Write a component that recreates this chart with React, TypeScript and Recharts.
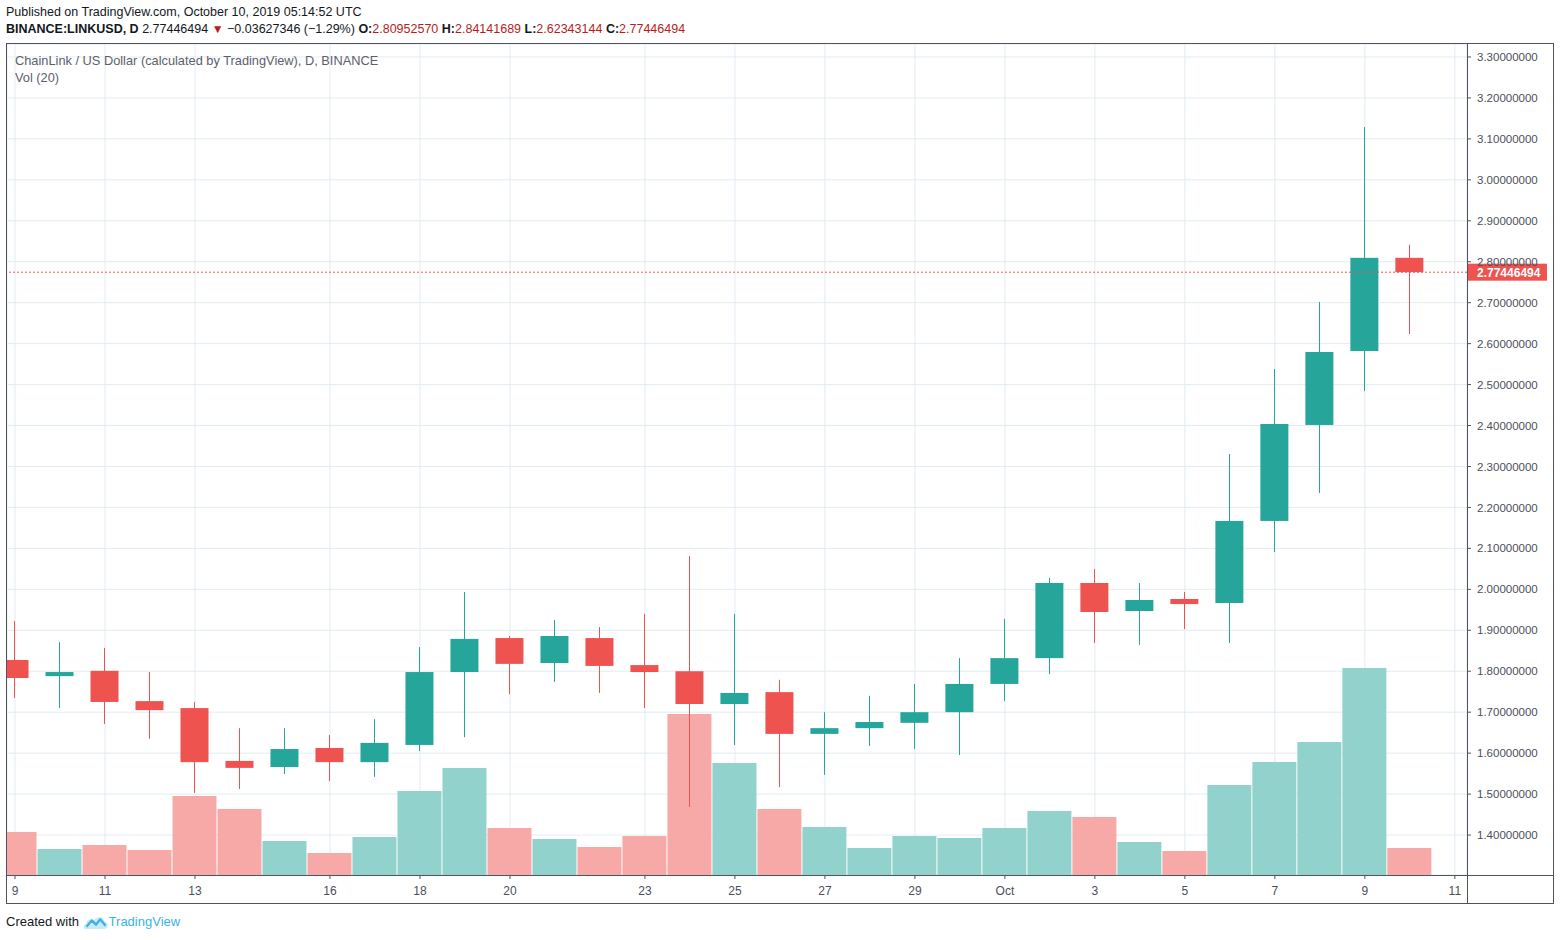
import React from 'react';
import { ComposedChart, Bar, XAxis, YAxis, CartesianGrid, ReferenceLine } from 'recharts';

const dates = [
  '2019-09-09', '2019-09-10', '2019-09-11', '2019-09-12', '2019-09-13', '2019-09-14', '2019-09-15', '2019-09-16',
  '2019-09-17', '2019-09-18', '2019-09-19', '2019-09-20', '2019-09-21', '2019-09-22', '2019-09-23', '2019-09-24',
  '2019-09-25', '2019-09-26', '2019-09-27', '2019-09-28', '2019-09-29', '2019-09-30', '2019-10-01', '2019-10-02',
  '2019-10-03', '2019-10-04', '2019-10-05', '2019-10-06', '2019-10-07', '2019-10-08', '2019-10-09', '2019-10-10',
];
const opens = [
  1.8275, 1.788, 1.801, 1.727, 1.71, 1.581, 1.566, 1.6126,
  1.578, 1.62, 1.798, 1.881, 1.82, 1.881, 1.815, 1.8,
  1.72, 1.749, 1.647, 1.661, 1.674, 1.7, 1.769, 1.832,
  2.0155, 1.947, 1.9764, 1.9667, 2.167, 2.4014, 2.582, 2.8095257,
];
const highs = [
  1.9227, 1.871, 1.857, 1.798, 1.725, 1.661, 1.661, 1.644,
  1.683, 1.859, 1.9935, 1.886, 1.925, 1.908, 1.94, 2.081,
  1.94, 1.779, 1.7, 1.74, 1.769, 1.832, 1.928, 2.028,
  2.05, 2.0155, 1.9935, 2.3305, 2.538, 2.7017, 3.129, 2.84141689,
];
const lows = [
  1.7347, 1.71, 1.671, 1.635, 1.503, 1.5125, 1.549, 1.532,
  1.542, 1.605, 1.639, 1.744, 1.774, 1.747, 1.71, 1.4685,
  1.62, 1.517, 1.547, 1.6175, 1.61, 1.5955, 1.727, 1.793,
  1.869, 1.864, 1.903, 1.869, 2.091, 2.2353, 2.484, 2.62343144,
];
const closes = [
  1.7835, 1.798, 1.725, 1.705, 1.578, 1.564, 1.61, 1.578,
  1.625, 1.798, 1.879, 1.818, 1.886, 1.813, 1.798, 1.72,
  1.747, 1.647, 1.661, 1.676, 1.7, 1.769, 1.832, 2.0155,
  1.9447, 1.974, 1.964, 2.167, 2.4038, 2.5796, 2.8095257, 2.77446494,
];
// volume in millions LINK (approximate)
const volumes = [
  4.3, 2.6, 3.0, 2.5, 7.9, 6.6, 3.4, 2.2,
  3.8, 8.4, 10.7, 4.7, 3.6, 2.8, 3.9, 16.1,
  11.2, 6.6, 4.8, 2.7, 3.9, 3.7, 4.7, 6.4,
  5.8, 3.3, 2.4, 9.0, 11.3, 13.3, 20.7, 2.7,
];

const xTicks = [0, 2, 4, 7, 9, 11, 14, 16, 18, 20, 22, 24, 26, 28, 30, 32];
const xTickLabels = ['9', '11', '13', '16', '18', '20', '23', '25', '27', '29', 'Oct', '3', '5', '7', '9', '11'];
const priceTicks = [1.4, 1.5, 1.6, 1.7, 1.8, 1.9, 2.0, 2.1, 2.2, 2.3, 2.4, 2.5, 2.6, 2.7, 2.8, 2.9, 3.0, 3.1, 3.2, 3.3];
const lastPrice = 2.77446494;

const UP = '#26a69a';
const DOWN = '#ef5350';
const UP_VOL = '#92d2cc';
const DOWN_VOL = '#f7a9a7';
const FRAME = '#50535e';
const TEXT = '#4c4f5a';
const FONT = '"Liberation Sans", Arial, sans-serif';

const data = dates.map((d, i) => ({
  idx: i,
  date: d,
  open: opens[i],
  high: highs[i],
  low: lows[i],
  close: closes[i],
  volume: volumes[i],
}));

const Candle = (props: any) => {
  const { x, y, width, height, payload } = props;
  const { open, high, low, close } = payload;
  const top = Math.min(y, y + height);
  const h = Math.abs(height);
  const ppu = h / (high - low);
  const py = (v: number) => top + (high - v) * ppu;
  const color = close >= open ? UP : DOWN;
  const bodyTop = py(Math.max(open, close));
  const bodyBot = py(Math.min(open, close));
  const cx = Math.floor(x + width / 2);
  return (
    <g>
      <rect x={cx} y={top} width={1} height={h} fill={color} />
      <rect x={x} y={bodyTop} width={width} height={Math.max(1, bodyBot - bodyTop)} fill={color} />
    </g>
  );
};

const VolBar = (props: any) => {
  const { x, y, width, height, payload } = props;
  const color = payload.close >= payload.open ? UP_VOL : DOWN_VOL;
  return <rect x={x} y={y} width={width} height={height} fill={color} />;
};

const PriceLabel = (props: any) => {
  const vb = props.viewBox || {};
  const lx = vb.x + vb.width + 1;
  const ly = vb.y;
  return (
    <g>
      <rect x={lx} y={ly - 8.5} width={79} height={17} fill={DOWN} />
      <text x={lx + 9} y={ly + 4.5} fill="#fff" fontSize={12} fontWeight="bold" fontFamily={FONT}>
        {lastPrice.toFixed(8)}
      </text>
    </g>
  );
};

const Logo = () => (
  <svg width={26} height={17} viewBox="0 0 24 16" style={{ verticalAlign: 'middle' }}>
    <path d="M2 14 C0 14 0 10 3 9 C3 5 8 4 10 6 C12 2 19 2 20 7 C24 7 24 14 20 14 Z" fill="#c7e9f8" />
    <path d="M3 12 L8 6 L12 10 L16 5 L21 11" fill="none" stroke="#3bb3e4" strokeWidth={2.2} strokeLinejoin="round" />
  </svg>
);

export default function App() {
  return (
    <div style={{ position: 'absolute', left: 0, top: 0, width: 1560, height: 940, background: '#fff', fontFamily: FONT }}>
      <div style={{ position: 'absolute', left: 6, top: 4, fontSize: 12.5, color: '#131722', lineHeight: '16px', whiteSpace: 'nowrap' }}>
        Published on TradingView.com, October 10, 2019 05:14:52 UTC
      </div>
      <div style={{ position: 'absolute', left: 6, top: 21, fontSize: 12.5, color: '#131722', lineHeight: '16px', whiteSpace: 'nowrap', fontWeight: 'bold' }}>
        BINANCE:LINKUSD, D{' '}
        <span style={{ fontWeight: 'normal' }}>
          {' '}2.77446494 <span style={{ color: '#b71c1c', fontSize: 12 }}>▼</span> −0.03627346 (−1.29%){' '}
        </span>
        O:<span style={{ color: '#b71c1c', fontWeight: 'normal' }}>2.80952570</span>{' '}
        H:<span style={{ color: '#b71c1c', fontWeight: 'normal' }}>2.84141689</span>{' '}
        L:<span style={{ color: '#b71c1c', fontWeight: 'normal' }}>2.62343144</span>{' '}
        C:<span style={{ color: '#b71c1c', fontWeight: 'normal' }}>2.77446494</span>
      </div>

      <div style={{ position: 'absolute', left: 0, top: 0 }}>
        <ComposedChart
          width={1560}
          height={940}
          data={data}
          margin={{ left: 7, top: 44, right: 7, bottom: 37 }}
        >
          <CartesianGrid xAxisId="main" yAxisId="price" stroke="#e1ecf2" strokeWidth={1} />
          <XAxis
            xAxisId="main"
            dataKey="idx"
            type="number"
            domain={[-0.178, 32.27]}
            allowDataOverflow
            ticks={xTicks}
            interval={0}
            tickFormatter={(v: number) => xTickLabels[xTicks.indexOf(v)] ?? ''}
            height={28}
            tickSize={4}
            tickMargin={7}
            axisLine={false}
            tickLine={{ stroke: FRAME }}
            tick={{ fill: TEXT, fontSize: 12, fontFamily: FONT }}
          />
          <XAxis xAxisId="vol" dataKey="idx" type="number" domain={[-0.178, 32.27]} allowDataOverflow hide />
          <YAxis
            yAxisId="price"
            orientation="right"
            domain={[1.3024, 3.3317]}
            allowDataOverflow
            ticks={priceTicks}
            interval={0}
            tickFormatter={(v: number) => v.toFixed(8)}
            width={86}
            tickSize={4}
            tickMargin={6}
            axisLine={false}
            tickLine={{ stroke: FRAME }}
            tick={{ fill: TEXT, fontSize: 11.5, fontFamily: FONT, textAnchor: 'start' }}
          />
          <YAxis yAxisId="vol" domain={[0, 83.1]} hide />
          <Bar
            xAxisId="vol"
            yAxisId="vol"
            dataKey="volume"
            barSize={44}
            shape={VolBar}
            isAnimationActive={false}
          />
          <Bar
            xAxisId="main"
            yAxisId="price"
            dataKey={(d: any) => [d.low, d.high]}
            barSize={28}
            shape={Candle}
            isAnimationActive={false}
          />
          <ReferenceLine
            xAxisId="main"
            yAxisId="price"
            y={lastPrice}
            stroke={DOWN}
            strokeDasharray="2 2"
            label={PriceLabel}
          />
        </ComposedChart>
      </div>

      {/* frame */}
      <div style={{ position: 'absolute', left: 6, top: 43, width: 1546, height: 859, border: `1px solid ${FRAME}`, pointerEvents: 'none' }} />
      <div style={{ position: 'absolute', left: 1467, top: 43, width: 1, height: 860, background: FRAME }} />
      <div style={{ position: 'absolute', left: 6, top: 875, width: 1547, height: 1, background: FRAME }} />

      <div style={{ position: 'absolute', left: 15, top: 53, fontSize: 12.8, color: '#5d606b', lineHeight: '15px', whiteSpace: 'nowrap' }}>
        ChainLink / US Dollar (calculated by TradingView), D, BINANCE
      </div>
      <div style={{ position: 'absolute', left: 15, top: 70, fontSize: 12.8, color: '#5d606b', lineHeight: '15px' }}>
        Vol (20)
      </div>

      <div style={{ position: 'absolute', left: 6, top: 913, fontSize: 13, color: '#131722', lineHeight: '18px', whiteSpace: 'nowrap' }}>
        Created with <Logo /><span style={{ color: '#3bb3e4' }}>TradingView</span>
      </div>
    </div>
  );
}
